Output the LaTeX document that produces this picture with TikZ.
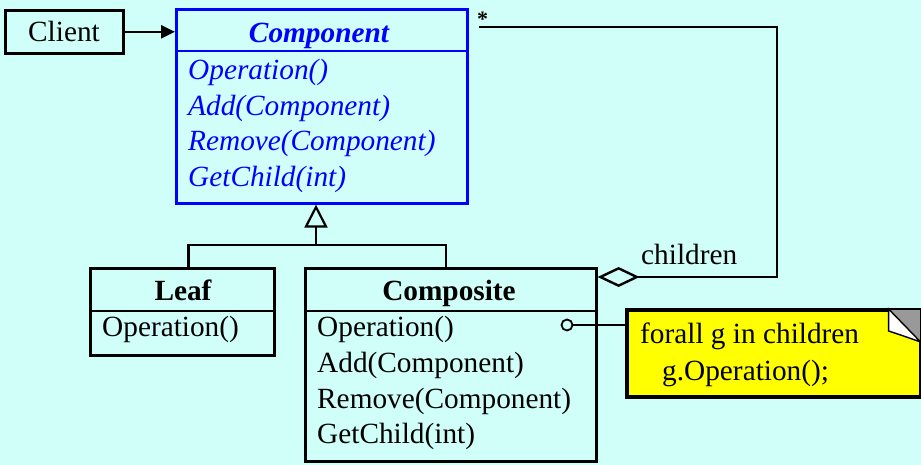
\documentclass[tikz,border=0pt]{standalone}
\usepackage{fontspec}
\setmainfont{Liberation Serif}
\usetikzlibrary{arrows.meta}
\definecolor{bg}{RGB}{208,255,250}
\definecolor{umlblue}{RGB}{0,0,255}
\definecolor{notey}{RGB}{255,255,0}
\definecolor{foldgray}{RGB}{153,153,153}
\newcommand\bigfont{\fontsize{29.3}{35}\selectfont}
\begin{document}
\begin{tikzpicture}[x=1pt,y=-1pt,
  txt/.style={font=\bigfont, inner sep=0pt, anchor=base west},
  bluetxt/.style={txt, text=umlblue, font=\bigfont\itshape},
  cls/.style={draw, line width=2.6pt, anchor=north west, inner sep=0pt},
  conn/.style={line width=2.4pt}]
\fill[bg] (0,0) rectangle (921,465);
\useasboundingbox (0,0) rectangle (921,465);

% Client
\node[cls, minimum width=118pt, minimum height=43pt] (client) at (4,9) {};
\node[txt, anchor=base] (clienttxt) at (64,42) {Client};

% Component
\node[cls, draw=umlblue, minimum width=291pt, minimum height=194pt] (comp) at (175,8) {};
\draw[umlblue, line width=2.6pt] ([yshift=-43pt]comp.north west) -- ([yshift=-43pt]comp.north east);
\node[txt, anchor=base, text=umlblue, font=\bigfont\bfseries\itshape] (comptitle) at (319,43) {Component};
\node[bluetxt] (c1) at (188,80) {Operation()};
\node[bluetxt] (c2) at (188,116) {Add(Component)};
\node[bluetxt] (c3) at (188,151) {Remove(Component)};
\node[bluetxt] (c4) at (188,187) {GetChild(int)};

% Leaf
\node[cls, minimum width=184pt, minimum height=87pt] (leaf) at (89,267) {};
\draw[line width=2.6pt] ([yshift=-44pt]leaf.north west) -- ([yshift=-44pt]leaf.north east);
\node[txt, anchor=base, font=\bigfont\bfseries] (leaftitle) at (183,300) {Leaf};
\node[txt] (l1) at (102,336) {Operation()};

% Composite
\node[cls, minimum width=291pt, minimum height=193pt] (compo) at (304,267) {};
\draw[line width=2.6pt] ([yshift=-44pt]compo.north west) -- ([yshift=-44pt]compo.north east);
\node[txt, anchor=base, font=\bigfont\bfseries] (compotitle) at (449,300) {Composite};
\node[txt] (o1) at (317,336) {Operation()};
\node[txt] (o2) at (317,372) {Add(Component)};
\node[txt] (o3) at (317,408) {Remove(Component)};
\node[txt] (o4) at (317,443) {GetChild(int)};

% Client -> Component
\draw[conn, -{Triangle[length=14pt,width=13pt]}] (client.east) -- (client.east -| comp.west);

% Inheritance
\coordinate (j) at (316,245);
\draw[conn, -{Triangle[open,length=23pt,width=23pt,line width=2.2pt]}] (j) -- (j |- comp.south);
\draw[conn] ([xshift=6pt]leaf.north) |- (j) -| ([xshift=-5pt]compo.north);

% Aggregation
\coordinate (agg) at ([yshift=-10pt]compo.north east);
\coordinate (rt) at (777,27);
\coordinate (starend) at ([xshift=10pt,yshift=-19pt]comp.north east);
\draw[conn, {Diamond[open,length=42pt,width=20pt,line width=2.4pt]}-] (agg) -| (rt) -- (starend);
\node[txt, font=\fontsize{22}{26}\selectfont\bfseries] (star) at (477,27) {*};
\node[txt] (chl) at (641,265) {children};

% Note
\node[draw, fill=notey, line width=2.6pt, anchor=north west, minimum width=293pt, minimum height=86pt, inner sep=0pt] (note) at (626,309) {};
\fill[foldgray] ([xshift=-33pt]note.north east) -- (note.north east) -- ([yshift=-33pt]note.north east) -- cycle;
\filldraw[fill=white, draw=black, line width=1.4pt] ([xshift=-33pt]note.north east) -- ([xshift=-33pt,yshift=-22pt]note.north east) .. controls ([xshift=-18pt,yshift=-27pt]note.north east) .. ([xshift=-1pt,yshift=-33pt]note.north east) -- cycle;
\draw[line width=2.6pt] (note.north west) rectangle (note.south east);
\node[txt] (n1) at (640,343) {forall g in children};
\node[txt] (n2) at (662,380) {g.Operation();};

% Note connector
\node[draw, circle, line width=1.8pt, minimum size=11pt, inner sep=0pt] (dot) at (567,325) {};
\draw[line width=1.2pt] (dot.east) -- (dot -| note.west);
\end{tikzpicture}
\end{document}
